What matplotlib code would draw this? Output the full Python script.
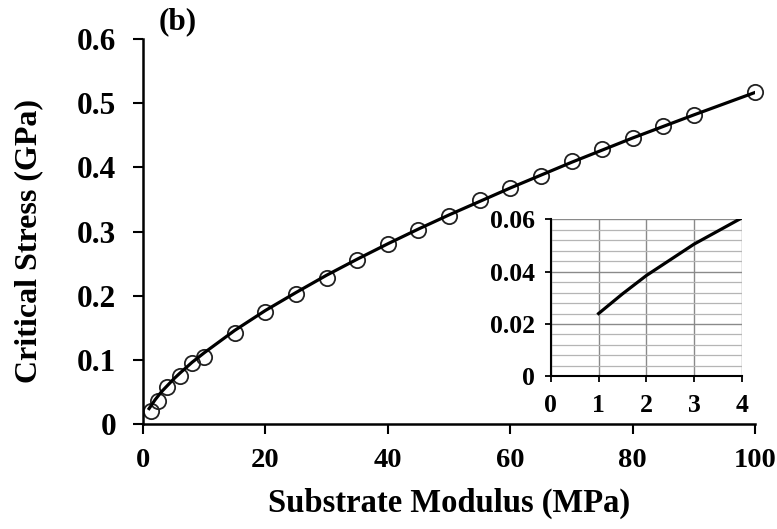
import matplotlib
matplotlib.use("Agg")
import matplotlib.pyplot as plt
from matplotlib.ticker import MultipleLocator

# ---- data ----
marker_x = [1.3, 2.5, 4, 6, 8, 10, 15, 20, 25, 30, 35, 40, 45, 50, 55,
            60, 65, 70, 75, 80, 85, 90, 100]
marker_y = [0.020, 0.036, 0.057, 0.075, 0.095, 0.105, 0.142, 0.174, 0.203,
            0.228, 0.256, 0.281, 0.303, 0.325, 0.349, 0.368, 0.386, 0.410,
            0.428, 0.446, 0.464, 0.482, 0.518]

line_x = [1, 1.5, 2, 2.5, 3, 4, 5, 6, 8, 10, 12, 15, 20, 25, 30, 35, 40, 45,
          50, 55, 60, 65, 70, 75, 80, 85, 90, 100]
line_y = [0.024, 0.031, 0.038, 0.044, 0.050, 0.060, 0.070, 0.079, 0.096,
          0.111, 0.125, 0.146, 0.177, 0.205, 0.232, 0.257, 0.281, 0.304,
          0.326, 0.347, 0.368, 0.388, 0.408, 0.427, 0.446, 0.464, 0.482,
          0.517]

inset_x = [1, 1.5, 2, 2.5, 3, 3.5, 4]
inset_y = [0.024, 0.0315, 0.0385, 0.0445, 0.0505, 0.0555, 0.0605]

main_xticks = [0, 20, 40, 60, 80, 100]
main_yticks = [0, 0.1, 0.2, 0.3, 0.4, 0.5, 0.6]
main_ytick_labels = ["0", "0.1", "0.2", "0.3", "0.4", "0.5", "0.6"]
inset_xticks = [0, 1, 2, 3, 4]
inset_yticks = [0, 0.02, 0.04, 0.06]
inset_ytick_labels = ["0", "0.02", "0.04", "0.06"]

xlabel = "Substrate Modulus (MPa)"
ylabel = "Critical Stress (GPa)"
panel_label = "(b)"

# ---- style ----
plt.rcParams["font.family"] = ["Liberation Serif", "DejaVu Serif"]
plt.rcParams["font.weight"] = "bold"

fig = plt.figure(figsize=(7.77, 5.29), dpi=100)
fig.patch.set_facecolor("white")

ax = fig.add_axes([0.184, 0.1985, 0.788, 0.7275])
ax.plot(line_x, line_y, color="black", lw=2.3, zorder=3)
ax.plot(marker_x, marker_y, linestyle="none", marker="o", ms=11,
        mfc="none", mec="#222222", mew=1.3, zorder=2, clip_on=False)

ax.set_xlim(0, 100)
ax.set_ylim(0, 0.6)
ax.set_xticks(main_xticks)
ax.set_yticks(main_yticks)
ax.set_yticklabels(main_ytick_labels)
for s in ["top", "right"]:
    ax.spines[s].set_visible(False)
for s in ["left", "bottom"]:
    ax.spines[s].set_linewidth(1.8)
ax.tick_params(direction="out", length=7.2, width=1.5)
ax.tick_params(axis="y", pad=12, labelsize=22.5)
ax.tick_params(axis="x", pad=10, labelsize=20.5)
for lab in ax.get_xticklabels() + ax.get_yticklabels():
    lab.set_fontweight("bold")
ax.set_xlabel(xlabel, fontsize=23.5, fontweight="bold")
ax.set_ylabel(ylabel, fontsize=23, fontweight="bold")
ax.xaxis.set_label_coords(0.5, -0.167)
ax.yaxis.set_label_coords(-0.163, 0.475)
ax.text(5.7, 0.6265, panel_label, fontsize=22.5, fontweight="bold",
        ha="center", va="center", clip_on=False)

# ---- inset ----
ins = fig.add_axes([0.709, 0.2885, 0.2456, 0.2970])
ins.set_xlim(0, 4)
ins.set_ylim(0, 0.06)
ins.set_xticks(inset_xticks)
ins.set_yticks(inset_yticks)
ins.set_yticklabels(inset_ytick_labels)
ins.yaxis.set_minor_locator(MultipleLocator(0.004))
ins.grid(True, which="major", color="#8a8a8a", lw=1.0)
ins.grid(True, which="minor", axis="y", color="#b5b5b5", lw=0.9)
ins.set_axisbelow(True)
ins.tick_params(which="major", direction="out", length=4.5, width=1.3,
                labelsize=18.5)
ins.tick_params(axis="y", pad=7)
ins.tick_params(axis="x", pad=8)
ins.tick_params(which="minor", length=0)
for lab in ins.get_xticklabels() + ins.get_yticklabels():
    lab.set_fontweight("bold")
for s in ["top", "right"]:
    ins.spines[s].set_visible(False)
for s in ["left", "bottom"]:
    ins.spines[s].set_linewidth(1.5)
ins.plot(inset_x, inset_y, color="black", lw=2.3, zorder=3)

fig.savefig("out.png", dpi=100)
